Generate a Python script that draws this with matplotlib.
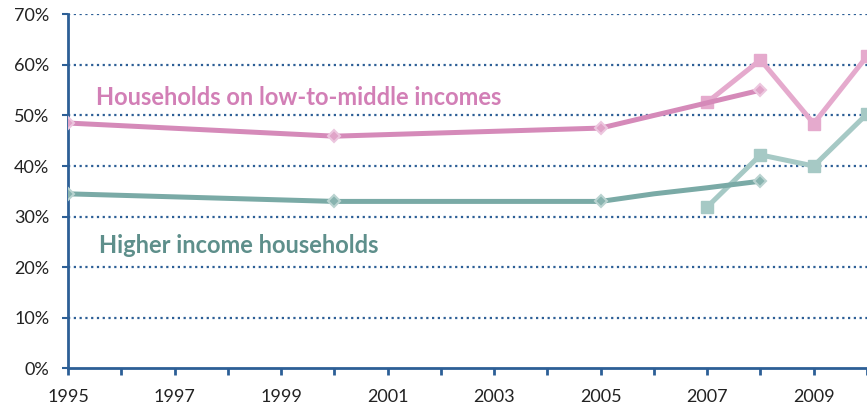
import matplotlib
matplotlib.use("Agg")
import matplotlib.pyplot as plt
import numpy as np

# Data (percent)
years_main = [1995, 2000, 2005, 2006, 2007, 2008]
low_mid_main = [48.5, 45.9, 47.5, 50.0, 52.5, 55.0]
higher_main = [34.5, 33.0, 33.0, 34.5, 35.7, 37.0]

years_new = [2007, 2008, 2009, 2010]
low_mid_new = [52.6, 61.0, 48.4, 61.7]
higher_new = [31.9, 42.2, 40.0, 50.3]

x_ticks = list(range(1995, 2011))
x_labels = [str(y) if y % 2 == 1 else "" for y in x_ticks]
y_ticks = [0, 10, 20, 30, 40, 50, 60, 70]
y_labels = [f"{v}%" for v in y_ticks]

label_low = "Households on low-to-middle incomes"
label_high = "Higher income households"

plt.rcParams['font.family'] = ['Lato', 'DejaVu Sans']

fig = plt.figure(figsize=(8.67, 4.09), dpi=100)
ax = fig.add_axes([68/867, (409-368.3)/409, 1 - 68/867, (368.3-14.3)/409])

blue = "#2d5f96"
pink_dark = "#d58ab9"
pink_light = "#e5aacd"
teal_dark = "#7aaaa6"
teal_light = "#a6c9c5"

ax.set_xlim(1995, 2009.9)
ax.set_ylim(0, 70)

for v in y_ticks[1:]:
    ax.axhline(v, color=blue, lw=1.6, ls=(0, (1, 1.6)), zorder=1)

ax.plot(years_new, low_mid_new, color=pink_light, lw=3.6, marker='s', ms=9,
        mfc=pink_light, mec=pink_light, zorder=3, clip_on=True)
ax.plot(years_new, higher_new, color=teal_light, lw=3.6, marker='s', ms=9,
        mfc=teal_light, mec=teal_light, zorder=3, clip_on=True)
ax.plot(years_main, low_mid_main, color=pink_dark, lw=3.6, marker='D', ms=6,
        markevery=[0, 1, 2, 5], mfc="#e0a4c8", mec="#ecc6de", mew=1.5, zorder=4)
ax.plot(years_main, higher_main, color=teal_dark, lw=3.6, marker='D', ms=6,
        markevery=[0, 1, 2, 5], mfc="#88b3af", mec="#b9d3d0", mew=1.5, zorder=4)

ax.text(1995.52, 53.6, label_low, color="#d27fb6", fontsize=17,
        fontweight='bold', va='center', ha='left', zorder=5)
ax.text(1995.58, 24.2, label_high, color="#5e8f8b", fontsize=17,
        fontweight='bold', va='center', ha='left', zorder=5)

ax.set_xticks(x_ticks)
ax.set_xticklabels(x_labels, fontsize=13, color="#222222")
ax.set_yticks(y_ticks)
ax.set_yticklabels(y_labels, fontsize=13, color="#222222")
ax.tick_params(axis='x', direction='out', length=5, width=2, color=blue, pad=10)
ax.tick_params(axis='y', direction='out', length=4.5, width=1.5, color=blue, pad=9)

for s in ['top', 'right']:
    ax.spines[s].set_visible(False)
for s in ['left', 'bottom']:
    ax.spines[s].set_color(blue)
    ax.spines[s].set_linewidth(2)

fig.savefig("out.png", dpi=100)
